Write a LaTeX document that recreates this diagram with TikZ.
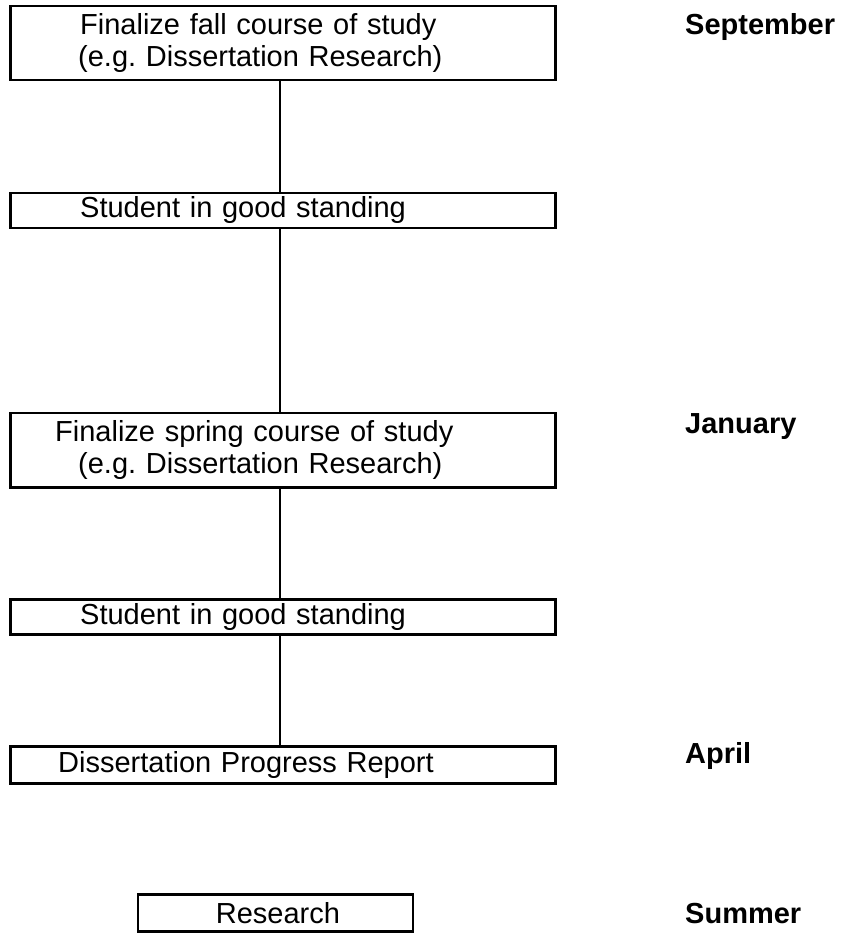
\documentclass[tikz,border=0pt]{standalone}
\usepackage{fontspec}
\setmainfont{Liberation Sans}
\usepackage{tikz}
\usetikzlibrary{positioning}
\frenchspacing
\tikzset{
  tlbox/.style={
    draw,
    align=left,
    text width=545pt,
    minimum height=35pt,
    inner xsep=0pt,
    inner ysep=0pt,
    outer sep=0pt,
    font=\fontsize{29pt}{32pt}\selectfont,
    line width=2.8pt
  },
  tlmonth/.style={anchor=base west, inner sep=0pt, font=\fontsize{29pt}{32pt}\selectfont\bfseries},
  tlline/.style={line width=2.8pt}
}

\begin{document}
\begin{tikzpicture}[
  x=1pt, y=-1pt
]
\useasboundingbox (0,0) rectangle (843,933);
\node[tlbox, minimum height=74pt] (fallplan) at (282.7,43) {\hspace*{70pt}Finalize fall course of study\\\hspace*{68pt}(e.g. Dissertation Research)};
\node[tlbox, below=113pt of fallplan] (fallgood) {\hspace*{70pt}Student in good standing};
\node[tlbox, minimum height=74.5pt, below=185pt of fallgood] (springplan) {\hspace*{45pt}Finalize spring course of study\\\hspace*{68pt}(e.g. Dissertation Research)};
\node[tlbox, below=112pt of springplan] (springgood) {\hspace*{70pt}Student in good standing};
\node[tlbox, minimum height=37.6pt, below=111.7pt of springgood] (report) {\hspace*{48pt}Dissertation Progress Report};
\node[tlbox, text width=275pt, minimum height=37pt, below=110.7pt of report, xshift=-7.3pt] (research) {\hspace*{78pt}Research};
% months
\node[tlmonth] (september) at (685,35) {September};
\node[tlmonth] (january) at (685,433) {January};
\node[tlmonth] (april) at (685,763) {April};
\node[tlmonth] (summer) at (685,923) {Summer};
\draw[tlline] ([xshift=-2.7pt]fallplan.south) -- ([xshift=-2.7pt]fallgood.north);
\draw[tlline] ([xshift=-2.7pt]fallgood.south) -- ([xshift=-2.7pt]springplan.north);
\draw[tlline] ([xshift=-2.7pt]springplan.south) -- ([xshift=-2.7pt]springgood.north);
\draw[tlline] ([xshift=-2.7pt]springgood.south) -- ([xshift=-2.7pt]report.north);
\end{tikzpicture}
\end{document}
